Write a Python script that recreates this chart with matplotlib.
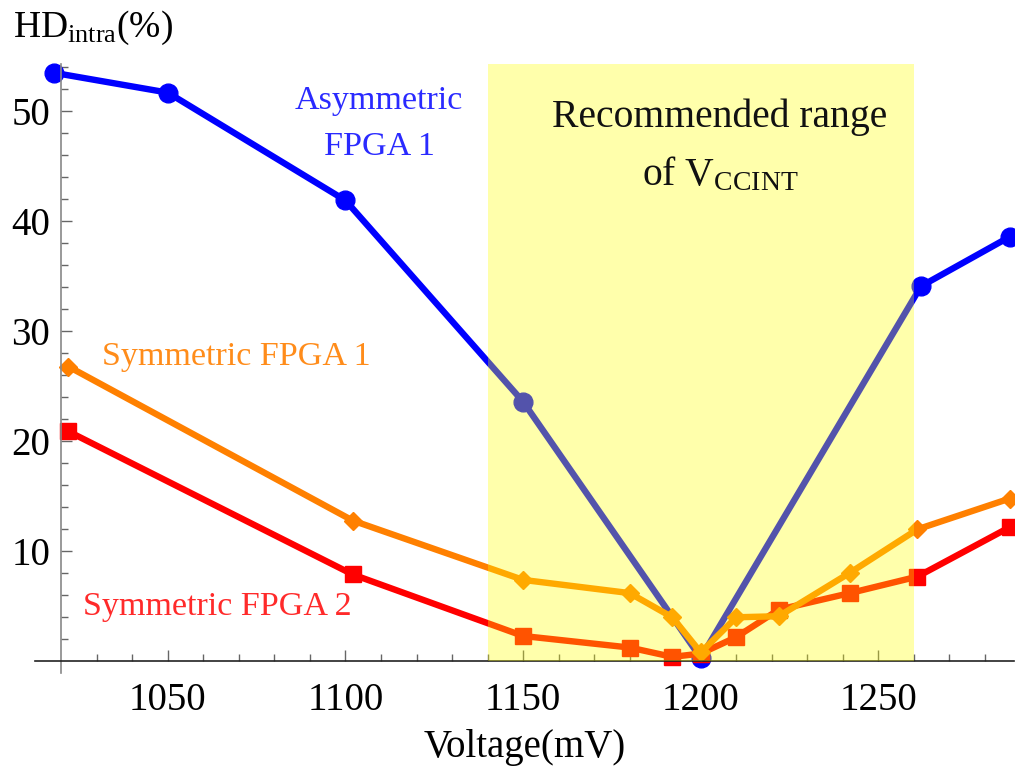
import matplotlib
matplotlib.use("Agg")
import matplotlib.pyplot as plt
from matplotlib.patches import Rectangle
from matplotlib.ticker import FixedLocator

plt.rcParams['font.family'] = ['Liberation Serif', 'DejaVu Serif']
plt.rcParams['mathtext.fontset'] = 'custom'
plt.rcParams['mathtext.rm'] = 'Liberation Serif'
plt.rcParams['mathtext.it'] = 'Liberation Serif:italic'

# ---- data ----
asym_x = [1018, 1050, 1100, 1150, 1200, 1262, 1287]
asym_y = [53.5, 51.7, 41.9, 23.6, 0.3, 34.1, 38.6]

sym1_x = [1022, 1102, 1150, 1180, 1192, 1200, 1210, 1222, 1242, 1261, 1287]
sym1_y = [26.8, 12.8, 7.4, 6.2, 4.0, 0.8, 4.0, 4.1, 8.05, 12.0, 14.8]

sym2_x = [1022, 1102, 1150, 1180, 1192, 1200, 1210, 1222, 1242, 1261, 1287]
sym2_y = [20.9, 7.9, 2.3, 1.25, 0.4, 0.7, 2.2, 4.7, 6.2, 7.7, 12.2]

range_lo, range_hi = 1140, 1260
x_major = [1050, 1100, 1150, 1200, 1250]
y_major = [10, 20, 30, 40, 50]

# ---- figure ----
fig = plt.figure(figsize=(10.15, 7.66), dpi=100)
ax = fig.add_axes([0.0341, 0.1209, 0.965, 0.7955])
xmin, xmax = 1012.5, 1288.2
ymin, ymax = -1.1, 54.3
ax.set_xlim(xmin, xmax)
ax.set_ylim(ymin, ymax)
ax.patch.set_visible(False)

lw = 4.6
ax.plot(asym_x, asym_y, color=(0, 0, 1), lw=lw, marker='o', ms=13.5,
        solid_joinstyle='round', clip_on=False, zorder=2)
ax.plot(sym2_x, sym2_y, color=(1, 0, 0), lw=lw, marker='s', ms=11.5,
        solid_joinstyle='round', clip_on=False, zorder=2.1)
ax.plot(sym1_x, sym1_y, color=(1, 0.5, 0), lw=lw, marker='D', ms=9.5,
        solid_joinstyle='round', clip_on=False, zorder=2.2)

ax.add_patch(Rectangle((range_lo, 0), range_hi - range_lo, ymax - 0,
                       facecolor=(1, 1, 0), alpha=0.33, edgecolor='none',
                       zorder=3))

# axes styling (Mathematica-like crossing axes)
for s in ['top', 'right']:
    ax.spines[s].set_visible(False)
ax.spines['left'].set_position(('data', 1020))
ax.spines['bottom'].set_position(('data', 0))
ax.spines['left'].set_color('#888888')
ax.spines['bottom'].set_color('#222222')
ax.spines['left'].set_linewidth(1.2)
ax.spines['bottom'].set_linewidth(1.2)

ax.xaxis.set_major_locator(FixedLocator(x_major))
ax.xaxis.set_minor_locator(FixedLocator([v for v in range(1030, 1290, 10) if v not in x_major]))
ax.yaxis.set_major_locator(FixedLocator(y_major))
ax.yaxis.set_minor_locator(FixedLocator([v for v in range(2, 55, 2) if v not in y_major]))

ax.tick_params(axis='both', which='major', direction='in', length=8, width=1,
               color='#666666', labelsize=28)
ax.tick_params(axis='both', which='minor', direction='in', length=5, width=1,
               color='#666666')
ax.tick_params(axis='x', which='major', pad=15)
ax.tick_params(axis='y', which='major', pad=8)

# axis labels
fig.text(13 / 1015, 1 - 37 / 766, r'HD$_{\mathrm{intra}}$(%)', fontsize=27,
         ha='left', va='baseline')
fig.text(525 / 1015, 1 - 748 / 766, 'Voltage(mV)', fontsize=28,
         ha='center', va='center')

# annotations
ax.text(1109.5, 51.0, 'Asymmetric', color='#2a2aff', fontsize=24.5,
        ha='center', va='center', zorder=4)
ax.text(1109.5, 46.8, 'FPGA 1', color='#2a2aff', fontsize=24.5,
        ha='center', va='center', zorder=4)
ax.text(1069.4, 27.7, 'Symmetric FPGA 1', color='#ff8c1a', fontsize=24.5,
        ha='center', va='center', zorder=4)
ax.text(1063.8, 4.95, 'Symmetric FPGA 2', color='#ff2a2a', fontsize=24.5,
        ha='center', va='center', zorder=4)
ax.text(1205.4, 49.5, 'Recommended range', color='#111111', fontsize=28.5,
        ha='center', va='center', zorder=4)
ax.text(1205.4, 44.2, r'of V$_{\mathrm{CCINT}}$', color='#111111', fontsize=28.5,
        ha='center', va='center', zorder=4)

fig.savefig('out.png', dpi=100)
